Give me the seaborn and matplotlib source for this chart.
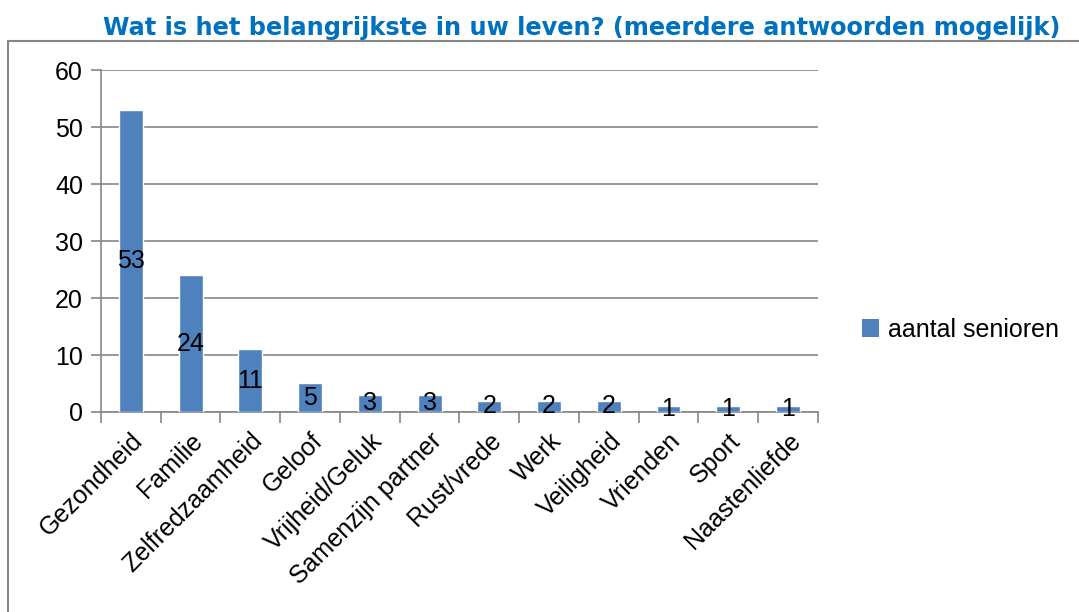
import pandas as pd
import matplotlib.pyplot as plt
import seaborn as sns
from matplotlib.patches import Rectangle, Patch

categories = ['Gezondheid', 'Familie', 'Zelfredzaamheid', 'Geloof', 'Vrijheid/Geluk',
              'Samenzijn partner', 'Rust/vrede', 'Werk', 'Veiligheid', 'Vrienden',
              'Sport', 'Naastenliefde']
values = [53, 24, 11, 5, 3, 3, 2, 2, 2, 1, 1, 1]
series_name = 'aantal senioren'
y_ticks = [0, 10, 20, 30, 40, 50, 60]

df = pd.DataFrame({'categorie': categories, 'aantal': values})

sns.set_style('white')
plt.rcParams['font.family'] = ['Liberation Sans', 'DejaVu Sans']
plt.rcParams['text.color'] = 'black'

bar_color = '#4F81BD'
grid_color = '#868686'
fs = 18

fig = plt.figure(figsize=(10.79, 6.12), dpi=100)
ax = fig.add_axes([0.0936, 0.3268, 0.758 - 0.0936, 0.8856 - 0.3268])

sns.barplot(data=df, x='categorie', y='aantal', color=bar_color, width=0.4,
            saturation=1, ax=ax, zorder=3)

# value labels in the middle of each bar
for container in ax.containers:
    ax.bar_label(container, label_type='center', fontsize=fs, color='black')

ax.set_ylim(0, 60)
ax.set_xlim(-0.5, len(categories) - 0.5)
ax.set_yticks(y_ticks)
ax.set_xlabel('')
ax.set_ylabel('')
ax.yaxis.grid(True, color=grid_color, lw=1.2, zorder=0)
ax.set_axisbelow(True)

for side in ['top', 'right']:
    ax.spines[side].set_visible(False)
for side in ['left', 'bottom']:
    ax.spines[side].set_color(grid_color)
    ax.spines[side].set_linewidth(1.2)

ax.tick_params(axis='y', direction='out', length=7, width=1.2, color=grid_color,
               labelsize=fs, pad=6, left=True, labelcolor='black')
# x ticks sit at category boundaries
ax.set_xticks([i - 0.5 for i in range(len(categories) + 1)], minor=True)
ax.tick_params(axis='x', which='minor', direction='out', length=8, width=1.2,
               color=grid_color, bottom=True)
ax.tick_params(axis='x', which='major', length=0, labelsize=fs, pad=12,
               labelcolor='black')
plt.setp(ax.get_xticklabels(), rotation=45, ha='right', rotation_mode='anchor')

handles = [Patch(facecolor=bar_color, edgecolor='none', label=series_name)]
fig.legend(handles=handles, loc='center left', bbox_to_anchor=(0.778, 0.461),
           frameon=False, fontsize=fs, handlelength=0.7, handleheight=0.7,
           handletextpad=0.35)

fig.text(0.539, 0.954, 'Wat is het belangrijkste in uw leven? (meerdere antwoorden mogelijk)',
         ha='center', va='center', fontsize=17.3, fontweight='bold', color='#0070C0',
         family='DejaVu Sans')

# outer frame of the chart area
fig.patches.append(Rectangle((8 / 1079, -0.1), 1.2, 0.1 + 1 - 41 / 612,
                             transform=fig.transFigure, fill=False,
                             edgecolor=grid_color, lw=1.5, zorder=0))

fig.savefig('out.png', dpi=100)
